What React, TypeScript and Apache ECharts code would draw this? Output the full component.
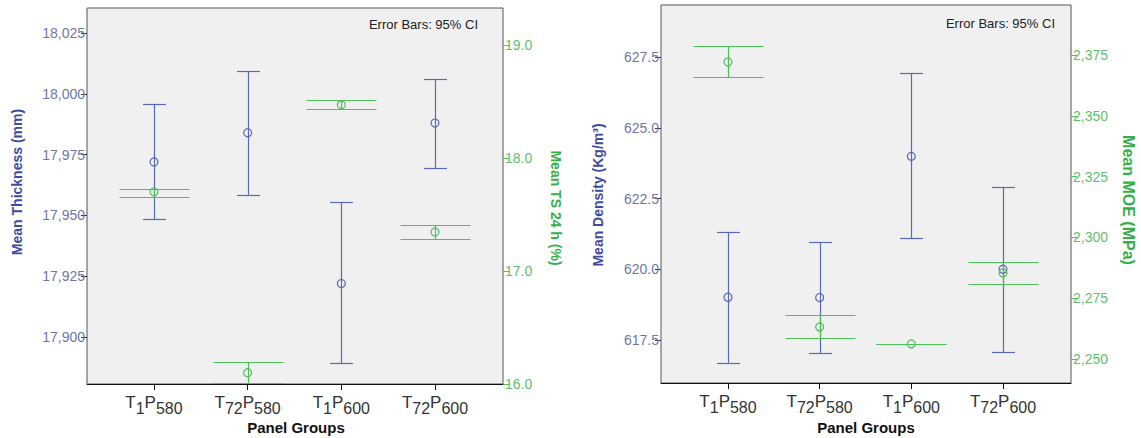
import React, { useEffect, useRef } from "react";
import * as echarts from "echarts";

// ---------- data ----------
const categories = ["T1P580", "T72P580", "T1P600", "T72P600"];
const xIndex = [1, 2, 3, 4];

// Left chart: Mean Thickness (mm) with 95% CI
const thicknessMean = [17.972, 17.984, 17.922, 17.988];
const thicknessLow = [17.9485, 17.9584, 17.8893, 17.9695];
const thicknessHigh = [17.9958, 18.0094, 17.9555, 18.0061];

// Left chart: Mean TS 24 h (%) with 95% CI
const tsMean = [17.7, 16.1, 18.47, 17.345];
const tsLow = [17.655, 16.009, 18.434, 17.283];
const tsHigh = [17.726, 16.195, 18.513, 17.407];

// Right chart: Mean Density (Kg/m³) with 95% CI
const densityMean = [619.01, 619.0, 623.99, 620.0];
const densityLow = [616.68, 617.03, 621.1, 617.07];
const densityHigh = [621.31, 620.96, 626.93, 622.9];

// Right chart: Mean MOE (MPa) with 95% CI
const moeMean = [2372.1, 2263.2, 2256.2, 2285.4];
const moeLow = [2366.0, 2258.6, 2256.1, 2280.8];
const moeHigh = [2378.7, 2268.1, 2256.3, 2289.9];

// tick labels
const thicknessTicks = [17.9, 17.925, 17.95, 17.975, 18.0, 18.025];
const tsTicks = [16, 17, 18, 19];
const densityTicks = [617.5, 620.0, 622.5, 625.0, 627.5];
const moeTicks = [2250, 2275, 2300, 2325, 2350, 2375];

// ---------- style ----------
const FONT = "Arial, 'Liberation Sans', sans-serif";
const BLUE = "#5a68b8";
const BLUE_TXT = "#6e76a8";
const BLUE_TITLE = "#3e4b9c";
const GREEN = "#4cc15a";
const GREEN_TXT = "#5fbf6d";
const GREEN_TITLE = "#33b04a";

function richLabel(cat: string) {
  const m = /T(\d+)P(\d+)/.exec(cat);
  if (!m) return cat;
  return `{t|T}{s|${m[1]}}{t|P}{s|${m[2]}}`;
}

function errorBarSeries(
  xAxisIndex: number,
  yAxisIndex: number,
  low: number[],
  high: number[],
  color: string,
  halfW: number
) {
  return {
    type: "custom",
    xAxisIndex,
    yAxisIndex,
    encode: { x: 0, y: [1, 2] },
    data: xIndex.map((x, i) => [x, low[i], high[i]]),
    renderItem: (params: any, api: any) => {
      const x = api.value(0);
      const pLo = api.coord([x, api.value(1)]);
      const pHi = api.coord([x, api.value(2)]);
      const cx = Math.round(pLo[0]) + 0.5;
      const yl = Math.round(pLo[1]) + 0.5;
      const yh = Math.round(pHi[1]) + 0.5;
      const style = { stroke: color, lineWidth: 1.2 };
      return {
        type: "group",
        children: [
          { type: "line", shape: { x1: cx, y1: yl, x2: cx, y2: yh }, style },
          { type: "line", shape: { x1: cx - halfW, y1: yl, x2: cx + halfW, y2: yl }, style },
          { type: "line", shape: { x1: cx - halfW, y1: yh, x2: cx + halfW, y2: yh }, style },
        ],
      };
    },
    z: 3,
  };
}

function meanSeries(xAxisIndex: number, yAxisIndex: number, mean: number[], color: string) {
  return {
    type: "scatter",
    xAxisIndex,
    yAxisIndex,
    data: xIndex.map((x, i) => [x, mean[i]]),
    symbol: "circle",
    symbolSize: 8,
    itemStyle: { color: "rgba(0,0,0,0)", borderColor: color, borderWidth: 1.2, opacity: 1 },
    z: 4,
  };
}

function xAxisDef(gridIndex: number, min: number, max: number) {
  return {
    type: "value",
    gridIndex,
    min,
    max,
    splitLine: { show: false },
    axisLine: { show: true, onZero: false, lineStyle: { color: "#111", width: 1 } },
    axisTick: { show: true, customValues: xIndex, length: 6, lineStyle: { color: "#111" } },
    axisLabel: {
      customValues: xIndex,
      margin: 10,
      formatter: (v: number) => richLabel(categories[Math.round(v) - 1] || ""),
      rich: {
        t: { fontSize: 17, fontFamily: FONT, color: "#333", lineHeight: 22, verticalAlign: "top" },
        s: { fontSize: 16, fontFamily: FONT, color: "#333", lineHeight: 22, verticalAlign: "bottom", padding: [7, 0, 0, 0] },
      },
    },
  };
}

function yAxisDef(
  gridIndex: number,
  position: "left" | "right",
  min: number,
  max: number,
  ticks: number[],
  fmt: (v: number) => string,
  txtColor: string,
  tickColor: string
) {
  return {
    type: "value",
    gridIndex,
    position,
    min,
    max,
    splitLine: { show: false },
    axisLine: { show: false },
    axisTick: { show: true, customValues: ticks, length: 6, lineStyle: { color: tickColor, width: 1 } },
    axisLabel: {
      customValues: ticks,
      formatter: fmt,
      color: txtColor,
      fontSize: 14,
      fontFamily: FONT,
      margin: 2,
    },
  };
}

export default function App() {
  const ref = useRef<HTMLDivElement>(null);

  useEffect(() => {
    if (!ref.current) return;
    const chart = echarts.init(ref.current, null, { renderer: "svg" });

    const option: any = {
      animation: false,
      backgroundColor: "#ffffff",
      textStyle: { fontFamily: FONT },
      grid: [
        { left: 87, top: 8, width: 416, height: 376, show: true, backgroundColor: "#f0f0f0", borderColor: "#555", borderWidth: 1 },
        { left: 661, top: 5, width: 410, height: 378, show: true, backgroundColor: "#f0f0f0", borderColor: "#555", borderWidth: 1 },
      ],
      xAxis: [xAxisDef(0, 0.2847, 4.726), xAxisDef(1, 0.269, 4.742)],
      yAxis: [
        yAxisDef(0, "left", 17.8807, 18.0353, thicknessTicks, (v) => v.toFixed(3).replace(".", ","), BLUE_TXT, "#333"),
        yAxisDef(0, "right", 16, 19.327, tsTicks, (v) => v.toFixed(1), GREEN_TXT, GREEN),
        yAxisDef(1, "left", 615.98, 629.34, densityTicks, (v) => v.toFixed(1), BLUE_TXT, "#333"),
        yAxisDef(1, "right", 2240.13, 2395.56, moeTicks, (v) => Math.round(v).toLocaleString("en-US"), GREEN_TXT, GREEN),
      ],
      series: [
        errorBarSeries(0, 0, thicknessLow, thicknessHigh, BLUE, 11.5),
        meanSeries(0, 0, thicknessMean, BLUE),
        errorBarSeries(0, 1, tsLow, tsHigh, GREEN, 35),
        meanSeries(0, 1, tsMean, GREEN),
        errorBarSeries(1, 2, densityLow, densityHigh, BLUE, 11.5),
        meanSeries(1, 2, densityMean, BLUE),
        errorBarSeries(1, 3, moeLow, moeHigh, GREEN, 35),
        meanSeries(1, 3, moeMean, GREEN),
      ],
      graphic: [
        { type: "text", x: 478, y: 24, style: { text: "Error Bars: 95% CI", font: `13px ${FONT}`, fill: "#222", textAlign: "right", textVerticalAlign: "middle" } },
        { type: "text", x: 1055, y: 23, style: { text: "Error Bars: 95% CI", font: `13px ${FONT}`, fill: "#222", textAlign: "right", textVerticalAlign: "middle" } },
        { type: "text", x: 17, y: 182, rotation: Math.PI / 2, style: { text: "Mean Thickness (mm)", font: `bold 14px ${FONT}`, fill: BLUE_TITLE, textAlign: "center", textVerticalAlign: "middle" } },
        { type: "text", x: 556, y: 208, rotation: -Math.PI / 2, style: { text: "Mean TS 24 h (%)", font: `bold 14px ${FONT}`, fill: GREEN_TITLE, textAlign: "center", textVerticalAlign: "middle" } },
        { type: "text", x: 598, y: 195, rotation: Math.PI / 2, style: { text: "Mean Density (Kg/m³)", font: `bold 14px ${FONT}`, fill: BLUE_TITLE, textAlign: "center", textVerticalAlign: "middle" } },
        { type: "text", x: 1128, y: 200, rotation: -Math.PI / 2, style: { text: "Mean MOE (MPa)", font: `bold 16px ${FONT}`, fill: GREEN_TITLE, textAlign: "center", textVerticalAlign: "middle" } },
        { type: "text", x: 296, y: 427, style: { text: "Panel Groups", font: `bold 15px ${FONT}`, fill: "#111", textAlign: "center", textVerticalAlign: "middle" } },
        { type: "text", x: 866, y: 427, style: { text: "Panel Groups", font: `bold 15px ${FONT}`, fill: "#111", textAlign: "center", textVerticalAlign: "middle" } },
      ],
    };

    chart.setOption(option);
    return () => chart.dispose();
  }, []);

  return (
    <div
      ref={ref}
      style={{ position: "absolute", left: 0, top: 0, width: 1141, height: 438, background: "#fff" }}
    />
  );
}
